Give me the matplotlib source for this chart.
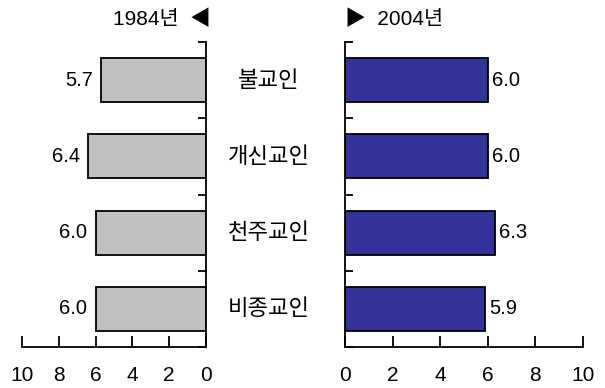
import matplotlib
matplotlib.use("Agg")
import matplotlib.pyplot as plt

plt.rcParams['font.family'] = ['Liberation Sans', 'Noto Sans CJK KR', 'DejaVu Sans']

categories = ['불교인', '개신교인', '천주교인', '비종교인']
values_1984 = [5.7, 6.4, 6.0, 6.0]
values_2004 = [6.0, 6.0, 6.3, 5.9]
xticks = [0, 2, 4, 6, 8, 10]
title_left = '1984년  ◀'
title_right = '▶  2004년'

W, H = 605, 388
fig = plt.figure(figsize=(W / 100, H / 100), dpi=100)

def frac_box(x0, x1, y0, y1):
    return [x0 / W, 1 - y1 / H, (x1 - x0) / W, (y1 - y0) / H]

ax_l = fig.add_axes(frac_box(22, 206, 42, 347))
ax_r = fig.add_axes(frac_box(345, 583, 42, 347))

ypos = list(range(len(categories)))
bar_h = 0.58

ax_l.barh(ypos, values_1984, height=bar_h, color='#c0c0c0', edgecolor='black', linewidth=1.3)
ax_r.barh(ypos, values_2004, height=bar_h, color='#333399', edgecolor='black', linewidth=1.3)

for ax in (ax_l, ax_r):
    ax.set_xlim(0, 10)
    ax.set_ylim(3.5, -0.5)
    ax.set_xticks(xticks)
    ax.set_xticklabels([str(t) for t in xticks])
    ax.tick_params(axis='x', direction='in', length=8, width=1.3, pad=14,
                   labelsize=15, colors='black')
    ax.set_yticks([i - 0.5 for i in range(len(categories) + 1)])
    ax.set_yticklabels([])
    ax.tick_params(axis='y', direction='in', length=6, width=1.3)
    ax.spines['top'].set_visible(False)
    for s in ax.spines.values():
        s.set_linewidth(1.3)

ax_l.invert_xaxis()
ax_l.spines['left'].set_visible(False)
ax_l.yaxis.tick_right()
ax_l.tick_params(axis='y', left=False, right=True, direction='in')
ax_r.spines['right'].set_visible(False)

for y, v in zip(ypos, values_1984):
    ax_l.text(v + 0.45, y, f'{v:.1f}', ha='right', va='center', fontsize=14.5)
for y, v in zip(ypos, values_2004):
    ax_r.text(v + 0.17, y, f'{v:.1f}', ha='left', va='center', fontsize=14.5)

# category names between the two panels
for y, name in zip(ypos, categories):
    yd = ax_l.transData.transform((0, y))[1]
    fig.text(269 / W, yd / H, name, ha='center', va='center', fontsize=16,
             family=['Noto Sans CJK KR', 'DejaVu Sans'], fontweight='light')

fig.text(211 / W, 1 - 19 / H, title_left, ha='right', va='center', fontsize=15)
fig.text(345 / W, 1 - 19 / H, title_right, ha='left', va='center', fontsize=15)

fig.savefig('out.png', dpi=100)
